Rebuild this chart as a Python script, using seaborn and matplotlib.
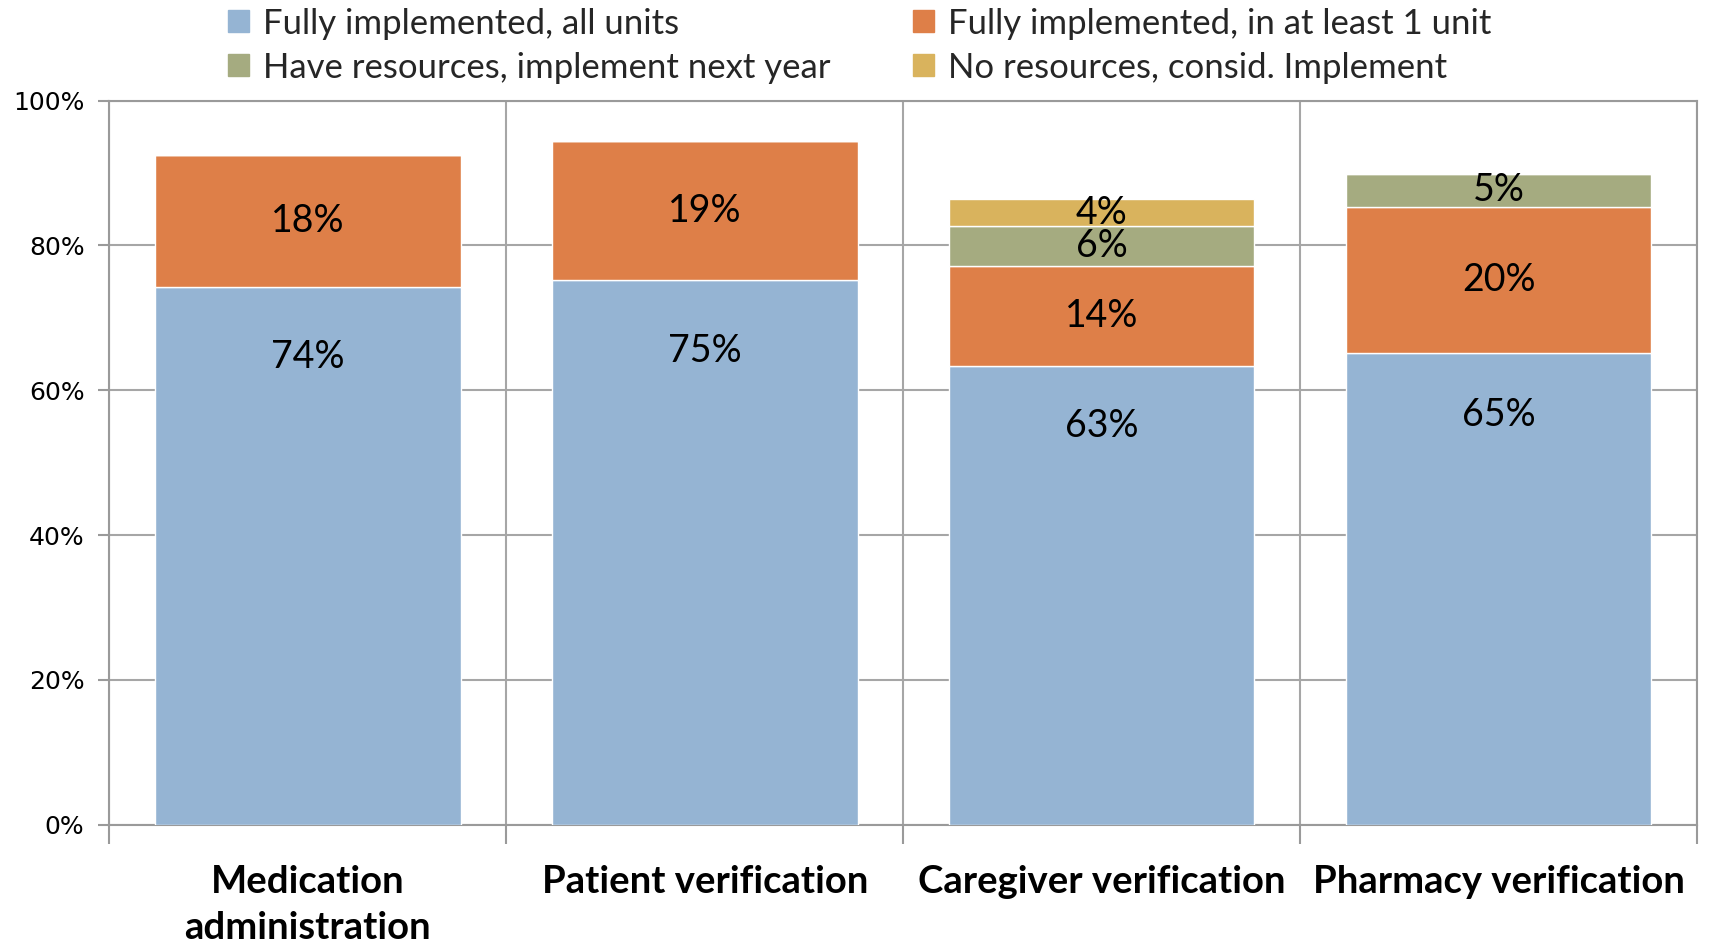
import numpy as np
import pandas as pd
import matplotlib.pyplot as plt
import seaborn as sns

categories = ['Medication\nadministration', 'Patient verification',
              'Caregiver verification', 'Pharmacy verification']
series = ['Fully implemented, all units', 'Fully implemented, in at least 1 unit',
          'Have resources, implement next year', 'No resources, consid. Implement']
all_units = [74.2, 75.2, 63.3, 65.1]
one_unit = [18.3, 19.2, 13.8, 20.2]
next_year = [0, 0, 5.6, 4.6]
no_resources = [0, 0, 3.7, 0]
colors = ['#95b4d3', '#de7f48', '#a5ab80', '#d9b35d']

values = [all_units, one_unit, next_year, no_resources]

sns.set_style('white')
plt.rcParams['font.family'] = ['Lato', 'DejaVu Sans']

fig = plt.figure(figsize=(17.09, 9.5), dpi=100)
ax = fig.add_axes([0.064, 0.132, 0.929, 0.762])

bottom = np.zeros(len(categories))
handles = []
for name, vals, col in zip(series, values, colors):
    df = pd.DataFrame({'cat': categories, 'val': vals})
    sns.barplot(data=df, x='cat', y='val', bottom=bottom, color=col,
                width=0.77, saturation=1, ax=ax, zorder=3)
    for i, v in enumerate(vals):
        if v <= 0:
            continue
        y = bottom[i] + v / 2 if name != series[0] else v * 0.87
        ax.text(i, y, f'{round(v):.0f}%', ha='center', va='center',
                fontsize=27, color='black', zorder=5)
    handles.append(plt.Rectangle((0, 0), 1, 1, color=col, label=name))
    bottom = bottom + np.array(vals)

ax.set_xlim(-0.5, 3.5)
ax.set_ylim(0, 100)
ax.set_yticks(np.arange(0, 101, 20))
ax.set_yticklabels([f'{t}%' for t in range(0, 101, 20)], fontsize=18,
                   family=['DejaVu Sans'], color='black')
ax.set_xlabel('')
ax.set_ylabel('')
ax.set_xticks(range(len(categories)))
ax.set_xticklabels(categories, fontsize=27.5, fontweight='bold', color='black')
for lbl in ax.get_xticklabels():
    lbl.set_linespacing(1.45)
ax.set_xticks([-0.5, 0.5, 1.5, 2.5, 3.5], minor=True)
ax.tick_params(axis='x', which='major', length=0, pad=29)
ax.tick_params(axis='x', which='minor', length=14, width=1.5, color='#9a9a9a',
               direction='out', bottom=True)
ax.tick_params(axis='y', length=8, width=1.5, color='#9a9a9a', direction='out',
               left=True, pad=10)
ax.grid(True, axis='y', color='#a6a6a6', linewidth=1.5, zorder=0)
ax.grid(True, axis='x', which='minor', color='#a6a6a6', linewidth=1.5, zorder=0)
ax.grid(False, axis='x', which='major')
ax.set_axisbelow(True)
for s in ax.spines.values():
    s.set_visible(True)
    s.set_color('#9a9a9a')
    s.set_linewidth(1.5)

order = [handles[0], handles[2], handles[1], handles[3]]
fig.legend(handles=order, loc='upper center', bbox_to_anchor=(0.503, 1.025),
           ncol=2, frameon=False, fontsize=25, handlelength=0.6,
           handleheight=0.6, handletextpad=0.4, columnspacing=2.4,
           labelspacing=0.35)

fig.savefig('out.png', dpi=100)
